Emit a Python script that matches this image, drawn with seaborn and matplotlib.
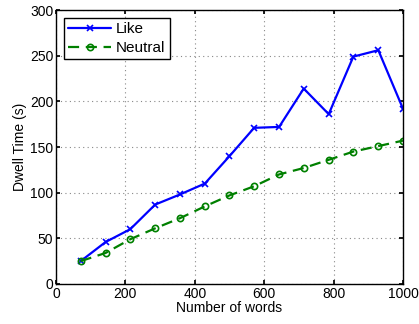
import pandas as pd
import matplotlib
matplotlib.use('Agg')
import matplotlib.pyplot as plt
import seaborn as sns

# values
words = [71, 143, 214, 286, 357, 429, 500, 571, 643, 714, 786, 857, 929, 1000]
like = [25, 46, 60, 87, 98, 110, 140, 171, 172, 214, 186, 249, 256, 192]
neutral = [25, 34, 49, 61, 72, 85, 97, 107, 120, 127, 136, 145, 151, 157]

df = pd.DataFrame({'words': words, 'Like': like, 'Neutral': neutral})

sns.set_theme(style='ticks')
plt.rcParams['font.family'] = ['Liberation Sans', 'DejaVu Sans']
plt.rcParams['text.color'] = 'black'
plt.rcParams['axes.labelcolor'] = 'black'

fig = plt.figure(figsize=(4.19, 3.24), dpi=100)
ax = fig.add_axes([0.1337, 0.1235, 0.828, 0.8455])

sns.lineplot(data=df, x='words', y='Like', color='#0000ff', marker='x',
             linewidth=1.6, markersize=4, markeredgewidth=1.2,
             markeredgecolor='#0000ff', label='Like', ax=ax)
sns.lineplot(data=df, x='words', y='Neutral', color='#008000', marker='o',
             linewidth=1.6, markersize=4.5, markeredgewidth=1.2,
             markerfacecolor='none', markeredgecolor='#008000',
             label='Neutral', ax=ax)
ax.get_lines()[1].set_linestyle((0, (5, 3)))

ax.set_xlim(0, 1000)
ax.set_ylim(0, 300)
ax.set_xticks(range(0, 1001, 200))
ax.set_yticks(range(0, 301, 50))
ax.grid(True, color='#888888', linestyle=(0, (1, 3)), linewidth=0.8)
ax.tick_params(direction='in', length=3, labelsize=10, colors='black',
               top=True, right=True, pad=2)
for s in ax.spines.values():
    s.set_visible(True)
    s.set_color('black')
    s.set_linewidth(1.0)
ax.set_xlabel('Number of words', fontsize=10, labelpad=0, color='black')
ax.set_ylabel('Dwell Time (s)', fontsize=10, labelpad=2, color='black')

leg = ax.legend(loc='upper left', fontsize=11, frameon=True, fancybox=False,
                edgecolor='black', framealpha=1, handlelength=2.8, borderpad=0.3,
                labelspacing=0.3, handletextpad=0.3, borderaxespad=0.5)
leg.get_frame().set_linewidth(1.0)
for t in leg.get_texts():
    t.set_color('black')
for hh in leg.legend_handles:
    if hh.get_label() == 'Neutral':
        hh.set_linestyle((0, (5, 3)))

fig.savefig('out.png', dpi=100)
